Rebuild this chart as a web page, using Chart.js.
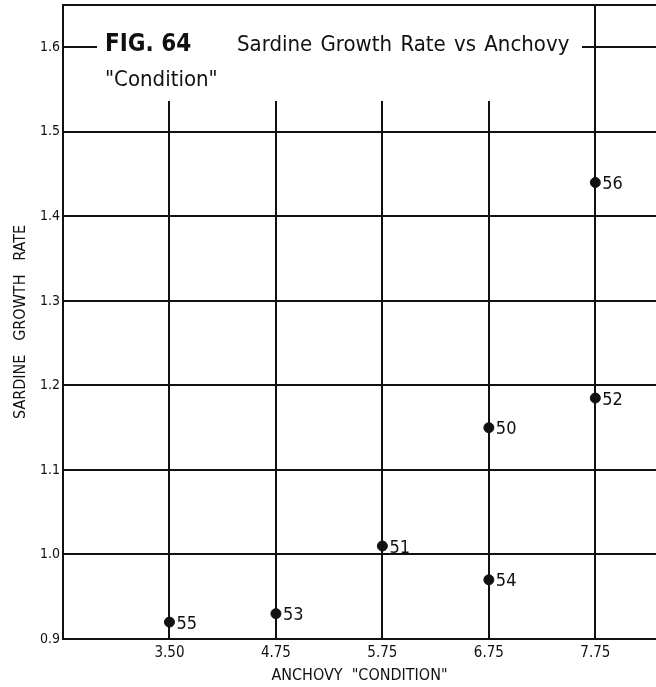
<!DOCTYPE html>
<html>
<head>
<meta charset="utf-8">
<script src="https://cdn.jsdelivr.net/npm/chart.js@4/dist/chart.umd.min.js"></script>
<style>
  html, body { margin: 0; padding: 0; background: #fff; }
  #wrap { width: 656px; height: 687px; }
</style>
</head>
<body>
<div id="wrap"><canvas id="fig64"></canvas></div>
<script>
// --- DATA ---
const conditionLabels = ['3.50', '4.75', '5.75', '6.75', '7.75'];
const yearNames = ['55', '53', '51', '50', '54', '56', '52'];
const anchovyCondition = ['3.50', '4.75', '5.75', '6.75', '6.75', '7.75', '7.75'];
const sardineGrowth = [0.92, 0.93, 1.01, 1.15, 0.97, 1.44, 1.185];
const growthTicks = [0.9, 1.0, 1.1, 1.2, 1.3, 1.4, 1.5, 1.6];

const LETTERING = '"DejaVu Sans Condensed", "DejaVu Sans", sans-serif';
const INK = '#111';

// condition labels sit on evenly spaced lines, so plot by position
const points = anchovyCondition.map((c, i) => ({
    x: conditionLabels.indexOf(c) + 1,
    y: sardineGrowth[i]
}));

// --- PLUGINS ---
// title block sits on a white patch over the grid, plus the top frame line
const titlePlugin = {
    id: 'titleBlock',
    beforeDatasetsDraw(chart) {
        const ctx = chart.ctx;
        const area = chart.chartArea;
        ctx.save();
        ctx.fillStyle = '#fff';
        ctx.fillRect(97, area.top, 485, 101 - area.top);

        ctx.strokeStyle = INK;
        ctx.lineWidth = 2;
        ctx.beginPath();
        ctx.moveTo(area.left, area.top);
        ctx.lineTo(area.right, area.top);
        ctx.stroke();

        ctx.fillStyle = INK;
        ctx.textBaseline = 'alphabetic';
        ctx.textAlign = 'left';
        ctx.font = 'bold 24px ' + LETTERING;
        ctx.fillText('FIG. 64', 105, 51);
        ctx.font = '22px ' + LETTERING;
        ctx.wordSpacing = '2px';
        ctx.fillText('Sardine Growth Rate vs Anchovy', 237, 51);
        ctx.wordSpacing = '0px';
        ctx.fillText('"Condition"', 105, 86);
        ctx.restore();
    }
};

// year labels beside each point
const yearLabelPlugin = {
    id: 'yearLabels',
    afterDatasetsDraw(chart) {
        const ctx = chart.ctx;
        const meta = chart.getDatasetMeta(0);
        ctx.save();
        ctx.fillStyle = INK;
        ctx.font = '18px ' + LETTERING;
        ctx.textAlign = 'left';
        ctx.textBaseline = 'middle';
        meta.data.forEach((pt, i) => {
            ctx.fillText(yearNames[i], pt.x + 7, pt.y + 2);
        });
        ctx.restore();
    }
};

// --- CHART ---
new Chart(document.getElementById('fig64'), {
    type: 'scatter',
    data: {
        datasets: [{
            label: 'Sardine growth rate',
            data: points,
            backgroundColor: INK,
            borderColor: INK,
            pointRadius: 5,
            pointHoverRadius: 5
        }]
    },
    options: {
        responsive: true,
        maintainAspectRatio: false,
        animation: false,
        events: [],
        layout: { autoPadding: false, padding: { top: 5, right: 0, left: 0, bottom: 0 } },
        plugins: {
            legend: { display: false },
            tooltip: { enabled: false }
        },
        scales: {
            x: {
                type: 'linear',
                min: 0,
                max: 5.57,
                afterBuildTicks: (scale) => {
                    scale.ticks = conditionLabels.map((_, i) => ({ value: i + 1 }));
                },
                afterFit: (scale) => {
                    scale.height = 48;
                    scale.paddingLeft = 0;
                    scale.paddingRight = 0;
                },
                ticks: {
                    color: INK,
                    padding: 5,
                    font: { family: LETTERING, size: 15 },
                    callback: (v) => conditionLabels[v - 1]
                },
                grid: { color: INK, lineWidth: 2, drawTicks: false },
                border: { color: INK, width: 2 },
                title: {
                    display: true,
                    text: 'ANCHOVY  "CONDITION"',
                    color: INK,
                    font: { family: LETTERING, size: 16 },
                    padding: { top: 0, bottom: 2 }
                }
            },
            y: {
                min: 0.9,
                max: 1.65,
                afterBuildTicks: (scale) => {
                    scale.ticks = growthTicks.map(v => ({ value: v }));
                },
                afterFit: (scale) => {
                    scale.width = 63;
                    scale.paddingTop = 0;
                    scale.paddingBottom = 0;
                },
                ticks: {
                    color: INK,
                    padding: 3,
                    font: { family: LETTERING, size: 14 },
                    callback: (v) => v.toFixed(1)
                },
                grid: {
                    color: INK,
                    lineWidth: 2,
                    drawTicks: false
                },
                border: { color: INK, width: 2 },
                title: {
                    display: true,
                    text: 'SARDINE   GROWTH   RATE',
                    color: INK,
                    font: { family: LETTERING, size: 16 },
                    padding: { top: 11, bottom: 0 }
                }
            }
        }
    },
    plugins: [titlePlugin, yearLabelPlugin]
});
</script>
</body>
</html>
